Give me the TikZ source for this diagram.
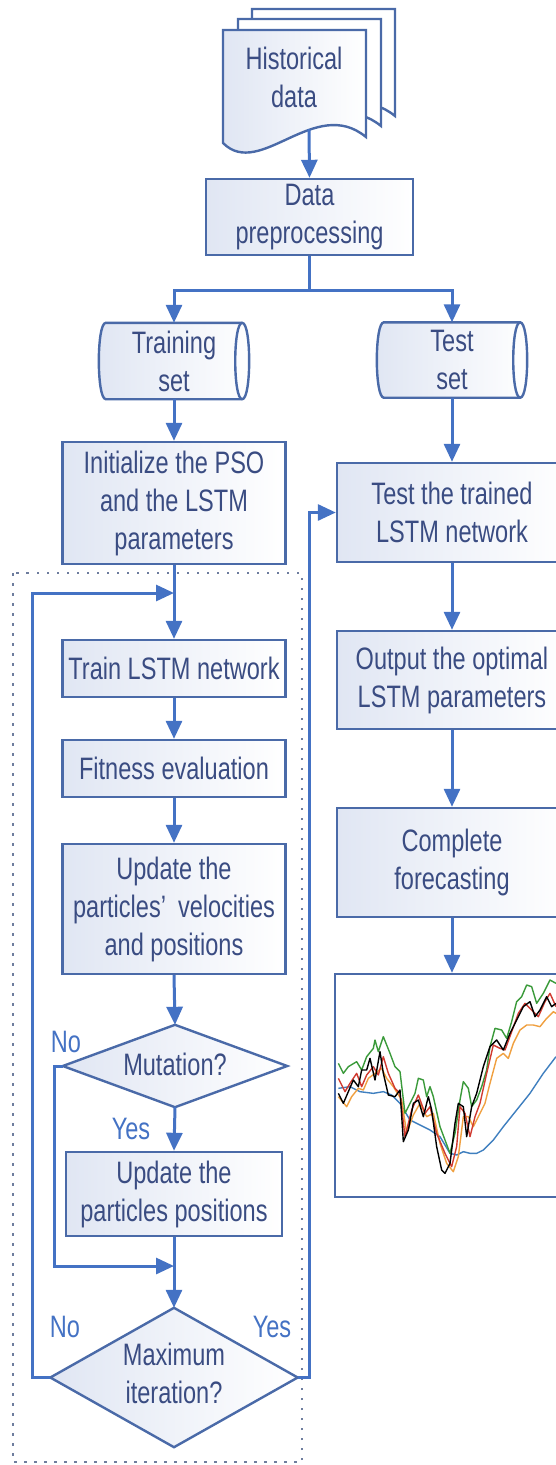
\documentclass[tikz,border=0pt]{standalone}
\usepackage{fontspec}
\setmainfont{Liberation Sans}[FakeStretch=0.76]
\usetikzlibrary{arrows.meta}
\definecolor{linec}{HTML}{4472C4}
\definecolor{borderc}{HTML}{4A6AA8}
\definecolor{textc}{HTML}{3A4C82}
\definecolor{fillc}{HTML}{E0E6F3}
\definecolor{dotc}{HTML}{6E7D9E}
\definecolor{cblue}{HTML}{3F7FBF}
\definecolor{cred}{HTML}{D03A30}
\definecolor{corange}{HTML}{F0A040}
\definecolor{cgreen}{HTML}{3A9A3A}
\begin{document}
\begin{tikzpicture}[x=1pt, y=-1pt, font=\fontsize{31}{38}\selectfont,
  box/.style={draw=borderc, line width=2.4pt, left color=fillc, right color=white, text=textc, align=center, inner sep=0pt},
  plain/.style={text=textc, align=center, inner sep=0pt},
  shapeline/.style={draw=borderc, line width=2.4pt},
  arr/.style={draw=linec, line width=3pt, -{Triangle[length=18pt,width=16pt]}},
  conn/.style={draw=linec, line width=3pt},
  lab/.style={text=linec, inner sep=0pt},
  series/.style={line width=1.4pt, line join=round}]
\useasboundingbox (0,0) rectangle (556,1465);

% ---- document stack ----
\draw[shapeline, fill=white] (252,122) -- (252,9) -- (395,9) -- (395,116) .. controls (344,74) and (289,159) .. cycle;
\draw[shapeline, fill=white] (238,132) -- (238,19) -- (381,19) -- (381,126) .. controls (330,84) and (275,169) .. cycle;
\draw[shapeline, left color=fillc, right color=white] (223,143) -- (223,30) -- (366,30) -- (366,137) .. controls (315,95) and (260,180) .. cycle;
\node[plain] (hist) at (294,77) {Historical\\data};
\coordinate (histb) at (309,129);

% ---- preprocessing ----
\node[box, minimum width=207pt, minimum height=76pt] (prep) at (309.5,217) {Data\\preprocessing};
\coordinate (split) at (309.5,290);

% ---- cylinders ----
\node[inner sep=0pt, minimum width=136pt, minimum height=76pt] (trs) at (174,361) {};
\draw[shapeline, left color=fillc, right color=white] (trs.north west) .. controls +(-9.3,0) and +(-9.3,0) .. (trs.south west) -- (trs.south east) .. controls +(9.3,0) and +(9.3,0) .. (trs.north east) -- cycle;
\draw[shapeline] (trs.north east) .. controls +(-9.3,0) and +(-9.3,0) .. (trs.south east);
\node[plain] at (trs.center) {Training\\set};

\node[inner sep=0pt, minimum width=136pt, minimum height=75pt] (tes) at (452,360) {};
\draw[shapeline, left color=fillc, right color=white] (tes.north west) .. controls +(-9.3,0) and +(-9.3,0) .. (tes.south west) -- (tes.south east) .. controls +(9.3,0) and +(9.3,0) .. (tes.north east) -- cycle;
\draw[shapeline] (tes.north east) .. controls +(-9.3,0) and +(-9.3,0) .. (tes.south east);
\node[plain] at (tes.center) {Test\\set};

% ---- left column ----
\node[box, minimum width=223pt, minimum height=122pt] (init) at (174,503) {Initialize the PSO\\and the LSTM\\parameters};
\draw[dotc, line width=2.5pt, dash pattern=on 2.5pt off 7.5pt] (13,573) rectangle (302,1462);
\coordinate (loopjoin) at (174,593);
\node[box, minimum width=223pt, minimum height=57pt] (trn) at (174,668.5) {Train LSTM network};
\node[box, minimum width=223pt, minimum height=57pt] (fit) at (174,768.5) {Fitness evaluation};
\node[box, minimum width=223pt, minimum height=130pt] (upd) at (174,909) {Update the\\particles’\hspace{12pt}velocities\\and positions};

\node[inner sep=0pt, minimum width=224pt, minimum height=82pt] (mut) at (175,1066) {};
\draw[shapeline, left color=fillc, right color=white] (mut.north) -- (mut.east) -- (mut.south) -- (mut.west) -- cycle;
\node[plain] at ([yshift=2pt]mut.center) {Mutation?};

\node[box, minimum width=216pt, minimum height=84pt] (upos) at (174,1194) {Update the\\particles positions};
\coordinate (mjoin) at (174,1266);

\node[inner sep=0pt, minimum width=247pt, minimum height=139pt] (max) at (174,1377.5) {};
\draw[shapeline, left color=fillc, right color=white] (max.north) -- (max.east) -- (max.south) -- (max.west) -- cycle;
\node[plain] at ([yshift=4pt]max.center) {Maximum\\iteration?};

% ---- right column ----
\node[box, minimum width=230pt, minimum height=99pt] (testb) at (452,512.5) {Test the trained\\LSTM network};
\node[box, minimum width=230pt, minimum height=98pt] (outb) at (452,680) {Output the optimal\\LSTM parameters};
\node[box, minimum width=230pt, minimum height=109pt] (comp) at (452,862.5) {Complete\\forecasting};
\node[draw=borderc, line width=2.4pt, fill=white, inner sep=0pt, minimum width=234pt, minimum height=223pt] (chart) at (452,1085.5) {};

% ---- chart series ----
\begin{scope}[shift={(330,960)}, scale=1/3]
\draw[series, cblue] plot coordinates {(25,385) (60,380) (90,395) (130,400) (160,395) (185,405) (210,430) (240,480) (270,495) (300,510) (330,530) (360,580) (380,585) (400,575) (420,580) (440,580) (460,570) (490,540) (520,500) (560,450) (600,400) (640,340) (678,290)};
\draw[series, corange] plot coordinates {(25,410) (50,440) (65,410) (85,385) (100,390) (115,355) (135,340) (155,325) (170,355) (190,380) (215,420) (230,520) (250,465) (270,430) (290,470) (310,460) (330,550) (350,610) (370,635) (385,590) (400,470) (415,470) (430,500) (450,460) (465,430) (480,370) (500,295) (520,280) (535,295) (550,250) (570,210) (590,195) (610,195) (630,200) (650,175) (670,155) (678,160)};
\draw[series, cgreen] plot coordinates {(25,310) (40,340) (55,320) (80,305) (95,330) (110,290) (130,265) (135,240) (145,275) (160,230) (180,280) (195,320) (210,335) (225,460) (240,430) (255,400) (265,355) (280,360) (290,410) (300,380) (310,410) (330,500) (345,540) (360,580) (375,520) (390,420) (400,365) (415,385) (425,440) (440,420) (455,380) (470,330) (480,260) (495,205) (515,210) (530,235) (545,185) (560,125) (575,110) (590,75) (605,80) (620,130) (640,100) (660,60) (678,70)};
\draw[series, cred] plot coordinates {(25,355) (45,395) (60,370) (80,340) (95,380) (110,345) (130,320) (145,345) (160,290) (175,340) (195,385) (210,400) (225,530) (245,450) (265,405) (285,460) (300,440) (320,520) (345,580) (365,620) (380,560) (390,440) (405,460) (420,530) (435,470) (450,430) (470,340) (490,255) (510,265) (525,270) (545,215) (565,160) (585,130) (605,150) (625,170) (645,125) (660,100) (678,140)};
\draw[series, black] plot coordinates {(25,400) (40,430) (55,395) (70,360) (85,380) (95,330) (110,330) (120,295) (135,360) (150,275) (160,340) (175,405) (195,410) (210,390) (220,545) (235,510) (250,430) (265,420) (280,470) (295,410) (305,450) (320,560) (335,630) (345,640) (360,610) (375,490) (385,430) (400,440) (410,530) (425,440) (440,400) (460,320) (480,260) (500,240) (520,270) (540,220) (560,180) (580,140) (600,125) (615,170) (630,150) (650,110) (665,140) (678,130)};
\end{scope}

% ---- connectors ----
\draw[arr] (histb) -- (prep.north);
\draw[conn] (prep.south) -- (split);
\draw[arr] (split) -| (trs.north);
\draw[arr] (split) -| (tes.north);
\draw[arr] (trs.south) -- (init.north);
\draw[arr] (tes.south) -- (testb.north);
\draw[arr] (init.south) -- (trn.north);
\draw[arr] (trn.south) -- (fit.north);
\draw[arr] (fit.south) -- (upd.north);
\draw[arr] (upd.south) -- (mut.north);
\draw[arr] (mut.south) -- (upos.north);
\draw[arr] (mut.west) -- ++(-8,0) |- (mjoin);
\draw[arr] (upos.south) -- (max.north);
\draw[arr] (max.west) -- ++(-18,0) |- (loopjoin);
\draw[arr] (max.east) -- ++(12,0) |- (testb.west);
\draw[arr] (testb.south) -- (outb.north);
\draw[arr] (outb.south) -- (comp.north);
\draw[arr] (comp.south) -- (chart.north);

% ---- labels ----
\node[lab] (no1) at (66,1042) {No};
\node[lab] (yes1) at (131,1129) {Yes};
\node[lab] (no2) at (65,1327) {No};
\node[lab] (yes2) at (272,1327) {Yes};
\end{tikzpicture}
\end{document}
